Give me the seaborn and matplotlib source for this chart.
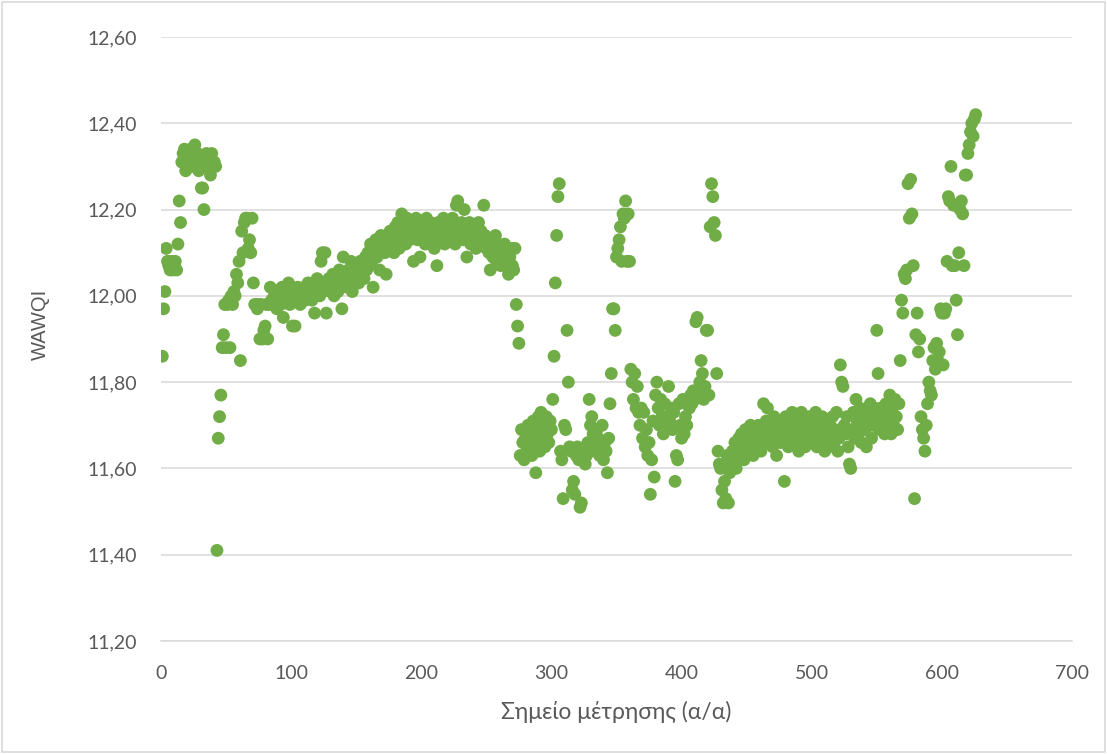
import numpy as np
import matplotlib
matplotlib.use("Agg")
import matplotlib.pyplot as plt
import seaborn as sns
from matplotlib.patches import Rectangle
from matplotlib.ticker import FuncFormatter

wawqi = [
    11.86, 11.97, 12.01, 12.11, 12.08, 12.07, 12.06, 12.08, 12.06, 12.07,
    12.08, 12.06, 12.12, 12.22, 12.17, 12.31, 12.33, 12.34, 12.29, 12.32,
    12.31, 12.33, 12.34, 12.30, 12.32, 12.35, 12.31, 12.33, 12.29, 12.32,
    12.25, 12.25, 12.20, 12.31, 12.33, 12.30, 12.32, 12.28, 12.33, 12.31,
    12.31, 12.30, 11.41, 11.67, 11.72, 11.77, 11.88, 11.91, 11.98, 11.88,
    11.98, 11.99, 11.88, 12.00, 11.98, 12.01, 12.00, 12.05, 12.03, 12.08,
    11.85, 12.15, 12.10, 12.17, 12.18, 12.18, 12.11, 12.13, 12.10, 12.18,
    12.03, 11.98, 11.98, 11.97, 11.98, 11.90, 11.98, 11.90, 11.92, 11.93,
    11.98, 11.90, 11.98, 12.02, 11.99, 11.98, 12.00, 11.99, 11.97, 12.01,
    12.00, 11.98, 12.02, 11.95, 12.00, 11.99, 12.01, 12.03, 11.98, 12.00,
    11.93, 12.01, 11.93, 11.99, 12.02, 12.00, 11.98, 12.01, 12.00, 12.02,
    11.99, 12.01, 12.03, 12.00, 12.02, 11.99, 12.03, 11.96, 12.01, 12.04,
    12.02, 12.00, 12.08, 12.10, 12.03, 12.10, 11.96, 12.02, 12.04, 12.01,
    12.03, 12.05, 12.00, 12.02, 12.04, 12.01, 12.06, 12.03, 11.97, 12.09,
    12.03, 12.05, 12.02, 12.06, 12.04, 12.08, 12.01, 12.05, 12.07, 12.04,
    12.06, 12.03, 12.08, 12.05, 12.07, 12.04, 12.09, 12.06, 12.10, 12.07,
    12.12, 12.08, 12.02, 12.11, 12.13, 12.09, 12.12, 12.06, 12.14, 12.11,
    12.13, 12.10, 12.05, 12.14, 12.12, 12.15, 12.12, 12.14, 12.10, 12.16,
    12.13, 12.17, 12.11, 12.15, 12.19, 12.14, 12.16, 12.12, 12.18, 12.15,
    12.13, 12.17, 12.14, 12.08, 12.16, 12.18, 12.13, 12.15, 12.09, 12.17,
    12.14, 12.16, 12.12, 12.18, 12.15, 12.13, 12.17, 12.14, 12.16, 12.11,
    12.15, 12.07, 12.17, 12.13, 12.16, 12.14, 12.18, 12.12, 12.15, 12.17,
    12.13, 12.16, 12.14, 12.18, 12.15, 12.12, 12.21, 12.22, 12.16, 12.14,
    12.17, 12.13, 12.20, 12.15, 12.09, 12.14, 12.17, 12.12, 12.15, 12.13,
    12.16, 12.11, 12.14, 12.17, 12.12, 12.15, 12.13, 12.21, 12.14, 12.11,
    12.13, 12.10, 12.06, 12.12, 12.09, 12.11, 12.14, 12.08, 12.12, 12.10,
    12.07, 12.11, 12.09, 12.12, 12.08, 12.10, 12.05, 12.09, 12.11, 12.07,
    12.06, 12.11, 11.98, 11.93, 11.89, 11.63, 11.69, 11.66, 11.62, 11.67,
    11.64, 11.70, 11.65, 11.68, 11.63, 11.71, 11.66, 11.59, 11.69, 11.72,
    11.64, 11.73, 11.67, 11.70, 11.65, 11.72, 11.68, 11.66, 11.71, 11.69,
    11.76, 11.86, 12.03, 12.14, 12.23, 12.26, 11.64, 11.62, 11.53, 11.70,
    11.69, 11.92, 11.80, 11.65, 11.64, 11.55, 11.57, 11.54, 11.63, 11.65,
    11.62, 11.51, 11.52, 11.62, 11.64, 11.61, 11.63, 11.66, 11.76, 11.70,
    11.72, 11.68, 11.66, 11.64, 11.69, 11.67, 11.63, 11.65, 11.70, 11.62,
    11.66, 11.64, 11.59, 11.67, 11.75, 11.82, 11.97, 11.97, 11.92, 12.09,
    12.11, 12.13, 12.16, 12.08, 12.19, 12.18, 12.22, 12.08, 12.19, 12.08,
    11.83, 11.80, 11.76, 11.82, 11.74, 11.79, 11.73, 11.70, 11.74, 11.67,
    11.73, 11.65, 11.69, 11.63, 11.66, 11.54, 11.62, 11.71, 11.58, 11.77,
    11.80, 11.74, 11.70, 11.76, 11.72, 11.68, 11.75, 11.72, 11.70, 11.79,
    11.71, 11.74, 11.69, 11.73, 11.57, 11.63, 11.62, 11.75, 11.70, 11.67,
    11.76, 11.68, 11.72, 11.70, 11.76, 11.74, 11.77, 11.75, 11.78, 11.76,
    11.94, 11.95, 11.78, 11.80, 11.85, 11.82, 11.76, 11.79, 11.92, 11.92,
    11.77, 12.16, 12.26, 12.23, 12.17, 12.14, 11.82, 11.64, 11.61, 11.60,
    11.55, 11.52, 11.57, 11.53, 11.63, 11.52, 11.59, 11.61, 11.64, 11.62,
    11.66, 11.60, 11.64, 11.67, 11.63, 11.68, 11.65, 11.62, 11.69, 11.66,
    11.64, 11.68, 11.70, 11.66, 11.63, 11.69, 11.67, 11.65, 11.70, 11.68,
    11.64, 11.69, 11.75, 11.67, 11.71, 11.74, 11.66, 11.70, 11.68, 11.65,
    11.72, 11.67, 11.63, 11.69, 11.71, 11.66, 11.70, 11.68, 11.57, 11.72,
    11.69, 11.65, 11.71, 11.67, 11.73, 11.68, 11.66, 11.70, 11.72, 11.64,
    11.69, 11.73, 11.67, 11.71, 11.65, 11.70, 11.68, 11.72, 11.66, 11.69,
    11.71, 11.67, 11.73, 11.65, 11.68, 11.70, 11.66, 11.72, 11.69, 11.64,
    11.67, 11.71, 11.65, 11.70, 11.68, 11.72, 11.66, 11.69, 11.73, 11.64,
    11.67, 11.84, 11.80, 11.79, 11.70, 11.68, 11.72, 11.65, 11.61, 11.60,
    11.69, 11.73, 11.67, 11.76, 11.71, 11.68, 11.74, 11.66, 11.70, 11.72,
    11.69, 11.65, 11.73, 11.71, 11.75, 11.67, 11.70, 11.74, 11.72, 11.92,
    11.82, 11.69, 11.74, 11.71, 11.73, 11.68, 11.75, 11.70, 11.72, 11.77,
    11.68, 11.74, 11.70, 11.76, 11.72, 11.69, 11.75, 11.85, 11.99, 11.96,
    12.05, 12.04, 12.06, 12.26, 12.18, 12.27, 12.19, 12.07, 11.53, 11.91,
    11.96, 11.87, 11.90, 11.72, 11.69, 11.67, 11.64, 11.70, 11.75, 11.80,
    11.78, 11.77, 11.85, 11.88, 11.83, 11.89, 11.85, 11.87, 11.97, 11.96,
    11.84, 11.96, 11.97, 12.08, 12.23, 12.22, 12.30, 12.07, 12.21, 12.07,
    11.99, 11.91, 12.10, 12.20, 12.22, 12.19, 12.07, 12.28, 12.28, 12.33,
    12.35, 12.38, 12.40, 12.37, 12.41, 12.42,
]
points = np.arange(1, len(wawqi) + 1)

y_ticks = [11.20, 11.40, 11.60, 11.80, 12.00, 12.20, 12.40, 12.60]
x_ticks = [0, 100, 200, 300, 400, 500, 600, 700]

sns.set_style("white")
plt.rcParams['font.family'] = ['Lato', 'Noto Sans', 'DejaVu Sans']

fig = plt.figure(figsize=(11.07, 7.54), dpi=100)
ax = fig.add_axes([161 / 1107, 1 - 641 / 754, 911 / 1107, 604 / 754])

sns.scatterplot(x=points, y=wawqi, ax=ax, color="#70AD47", s=85,
                edgecolor="none", linewidth=0, zorder=3)

ax.set_xlim(0, 700)
ax.set_ylim(11.20, 12.60)
ax.set_xticks(x_ticks)
ax.set_yticks(y_ticks)
ax.yaxis.set_major_formatter(FuncFormatter(lambda v, p: f"{v:.2f}".replace(".", ",")))

ax.grid(axis="y", color="#D9D9D9", linewidth=1.1)
ax.grid(axis="x", visible=False)
for side in ["top", "right", "left"]:
    ax.spines[side].set_visible(False)
ax.spines["bottom"].set_color("#D9D9D9")
ax.spines["bottom"].set_linewidth(1.1)

ax.tick_params(axis="both", length=0, labelsize=14, labelcolor="#595959")
ax.tick_params(axis="x", pad=17)
ax.tick_params(axis="y", pad=17)

ax.set_xlabel("Σημείο μέτρησης (α/α)", fontsize=16.5, color="#595959")
ax.set_ylabel("WAWQI", fontsize=14.5, color="#595959",
              family=["Liberation Sans", "DejaVu Sans"])
ax.xaxis.set_label_coords(0.5, -0.100)
ax.yaxis.set_label_coords(-0.122, 0.525)

# thin grey frame round the whole chart
fig.patches.append(Rectangle((0.002, 0.003), 0.996, 0.994, transform=fig.transFigure,
                             fill=False, edgecolor="#D9D9D9", linewidth=1.2))

fig.savefig("out.png", dpi=100)
